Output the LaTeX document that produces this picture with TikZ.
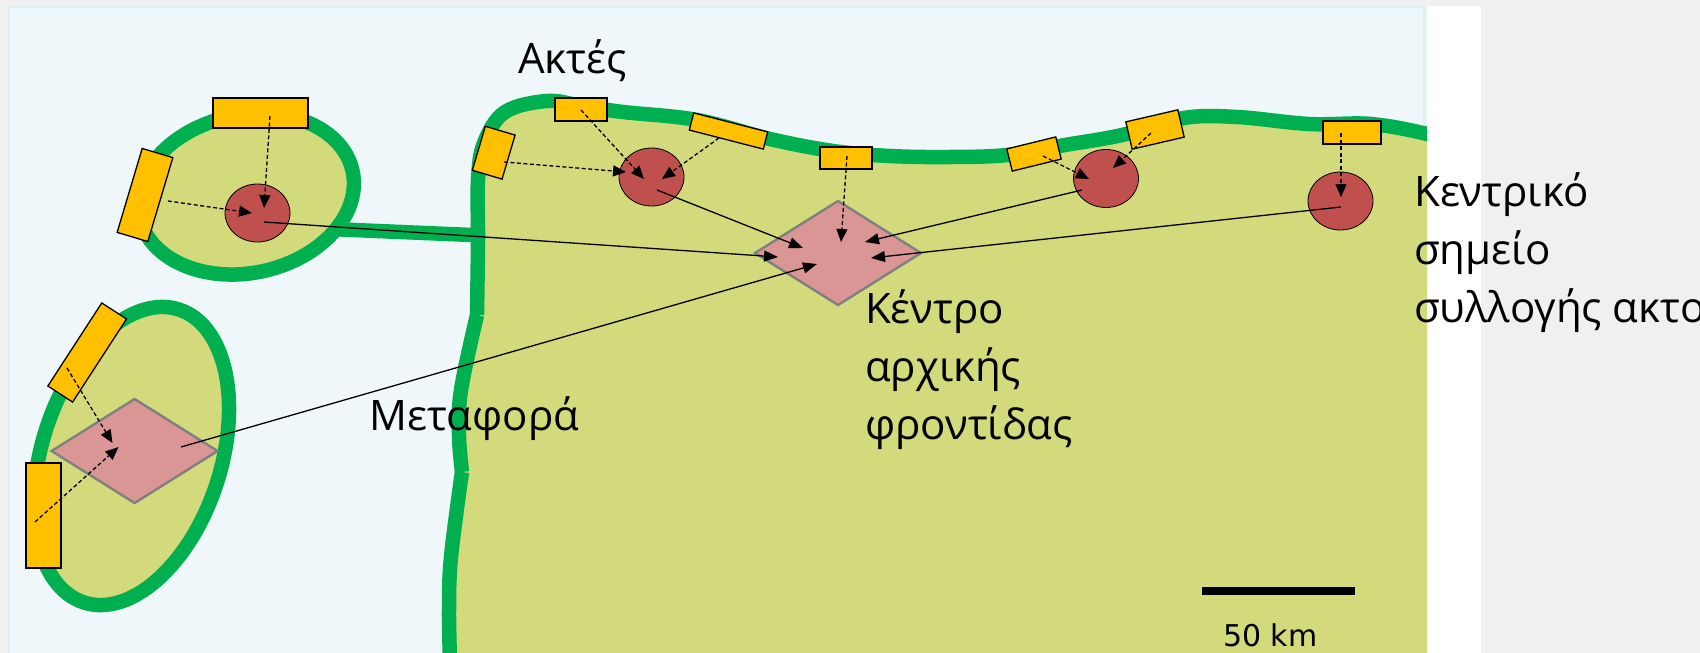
\documentclass[tikz,border=0pt]{standalone}
\usepackage{fontspec}
\usepackage{xcolor}
\usetikzlibrary{arrows.meta, shapes.geometric}
\setmainfont{Open Sans}
\newfontfamily\kmfont{DejaVu Sans}
\definecolor{PageGrey}{HTML}{F0F0F0}
\definecolor{SeaBlue}{HTML}{EFF7FA}
\definecolor{SeaEdge}{HTML}{DDEEF5}
\definecolor{LandGreen}{HTML}{D2DA7C}
\definecolor{CoastGreen}{HTML}{00B050}
\definecolor{BeachOrange}{HTML}{FFC000}
\definecolor{PointRed}{HTML}{C0504D}
\definecolor{CentrePink}{HTML}{D99694}

\begin{document}
\begin{tikzpicture}[x=1pt, y=-1pt,
    beach/.style={rectangle, draw, line width=1.3pt, fill=BeachOrange, inner sep=0pt},
    point/.style={ellipse, draw, line width=0.8pt, fill=PointRed, inner sep=0pt, minimum width=65pt, minimum height=58pt},
    centre/.style={diamond, draw=gray, line width=2.4pt, fill=CentrePink, inner sep=0pt, minimum width=167pt, minimum height=105pt},
    coast/.style={draw=CoastGreen, line width=14.5pt},
    island/.style={ellipse, coast, fill=LandGreen, inner sep=0pt},
    collect/.style={dashed, dash pattern=on 4pt off 2.5pt, line width=1.3pt, -{Triangle[length=13pt, width=11pt]}},
    haul/.style={line width=1.3pt, -{Triangle[length=14pt, width=11pt]}},
    label/.style={inner sep=0pt, anchor=north west, align=left, font=\fontsize{42}{58}\selectfont}]

        \useasboundingbox (0,0) rectangle (1700,653);
        \fill[PageGrey] (0,0) rectangle (1700,653);
        \fill[white] (1427,6) rectangle (1481,653);
        \filldraw[fill=SeaBlue, draw=SeaEdge, line width=1.5pt] (9,7) rectangle (1424,660);

        % land
        \begin{scope}
            \clip (8,7) rectangle (1427,653);
            \draw[coast] (330,229) -- (472,235);
            \node[island, minimum width=218pt, minimum height=158pt, rotate=12] (I1) at (246,194) {};
            \node[island, minimum width=308pt, minimum height=179pt, rotate=72] (I2) at (131.5,456) {};
            \fill[LandGreen] (450,660) -- plot[smooth, tension=0.6] coordinates {(450,660) (449,610) (451,557) (462,472)} -- plot[smooth, tension=0.6] coordinates {(462,472) (459,435) (461,390) (477,315)} -- plot[smooth, tension=0.6] coordinates {(477,315) (478,240) (478,180) (484,143) (505,112) (547,101) (582,106) (623,112) (697,120) (770,139) (833,151) (890,156) (950,157) (1007,155) (1065,145) (1122,135) (1184,118) (1237,117) (1309,124) (1371,124) (1427,134) (1445,142)} -- (1445,660) -- cycle;
            \draw[coast] plot[smooth, tension=0.6] coordinates {(450,660) (449,610) (451,557) (462,472)} plot[smooth, tension=0.6] coordinates {(462,472) (459,435) (461,390) (477,315)} plot[smooth, tension=0.6] coordinates {(477,315) (478,240) (478,180) (484,143) (505,112) (547,101) (582,106) (623,112) (697,120) (770,139) (833,151) (890,156) (950,157) (1007,155) (1065,145) (1122,135) (1184,118) (1237,117) (1309,124) (1371,124) (1427,134) (1445,142)};
        \end{scope}

        % beaches
        \node[beach, minimum width=95pt, minimum height=30pt] (B1) at (260.5,113) {};
        \node[beach, minimum width=87.6pt, minimum height=32pt, rotate=73.4] (B2) at (145,195) {};
        \node[beach, minimum width=99pt, minimum height=29.5pt, rotate=57] (B3) at (87.2,352.5) {};
        \node[beach, minimum width=35pt, minimum height=105pt] (B4) at (43.5,515.5) {};
        \node[beach, minimum width=45.9pt, minimum height=31pt, rotate=73.5] (B5) at (493.7,152.7) {};
        \node[beach, minimum width=52pt, minimum height=23pt] (B6) at (581,109.5) {};
        \node[beach, minimum width=76.4pt, minimum height=17.7pt, rotate=-14.4] (B7) at (728.5,131) {};
        \node[beach, minimum width=52pt, minimum height=22pt] (B8) at (846,158) {};
        \node[beach, minimum width=50.4pt, minimum height=22.8pt, rotate=13.8] (B9) at (1034,154) {};
        \node[beach, minimum width=53.4pt, minimum height=28pt, rotate=13] (B10) at (1155,129.5) {};
        \node[beach, minimum width=58pt, minimum height=23pt] (B11) at (1352,132.5) {};

        % collection points and care centres
        \node[point] (P1) at (257.5,213) {};
        \node[point] (P2) at (651.5,177) {};
        \node[point] (P3) at (1106,178.5) {};
        \node[point] (P4) at (1340.5,201) {};
        \node[centre] (C1) at (134.6,451) {};
        \node[centre] (C2) at (838,253) {};

        % ends of the arrows
        \coordinate (B1o) at (270,116);
        \coordinate (P1a) at (264,208);
        \coordinate (B2o) at (168,201);
        \coordinate (P1b) at (252,213);
        \coordinate (B3o) at (67,368);
        \coordinate (C1a) at (112.5,443);
        \coordinate (B4o) at (35,522);
        \coordinate (C1b) at (118.5,447);
        \coordinate (B5o) at (504,162);
        \coordinate (P2a) at (626,172);
        \coordinate (B6o) at (581,110);
        \coordinate (P2b) at (644,179);
        \coordinate (B7o) at (719,138);
        \coordinate (P2c) at (662,179);
        \coordinate (B8o) at (847,156);
        \coordinate (C2a) at (841,242);
        \coordinate (B9o) at (1043,156);
        \coordinate (P3a) at (1089,179);
        \coordinate (B10o) at (1151,133);
        \coordinate (P3b) at (1113,168);
        \coordinate (B11o) at (1341,133);
        \coordinate (P4a) at (1341,197);
        \coordinate (P1o) at (264,222);
        \coordinate (C2b) at (778,257);
        \coordinate (C1o) at (181,447);
        \coordinate (C2c) at (817,264);
        \coordinate (P2o) at (657,190);
        \coordinate (C2d) at (803,248);
        \coordinate (P3o) at (1082,190);
        \coordinate (C2e) at (865,242);
        \coordinate (P4o) at (1341,207);
        \coordinate (C2f) at (871,258);

        \path[collect]
        (B1o) edge (P1a)
        (B2o) edge (P1b)
        (B3o) edge (C1a)
        (B4o) edge (C1b)
        (B5o) edge (P2a)
        (B6o) edge (P2b)
        (B7o) edge (P2c)
        (B8o) edge (C2a)
        (B9o) edge (P3a)
        (B10o) edge (P3b)
        (B11o) edge (P4a)
        ;
        \path[haul]
        (P1o) edge (C2b)
        (C1o) edge (C2c)
        (P2o) edge (C2d)
        (P3o) edge (C2e)
        (P4o) edge (C2f)
        ;

        % scale bar
        \coordinate (S1) at (1202,591);
        \coordinate (S2) at (1355,591);
        \draw[line width=8pt] (S1) -- (S2);
        \node[inner sep=0pt, anchor=base west, font=\fontsize{30}{34}\kmfont] (S3) at (1223,646) {50 km};

        % labels
        \node[label] (L1) at (518,39) {Ακτές};
        \node[label] (L2) at (1414,172) {Κεντρικό\\σημείο\\συλλογής ακτο};
        \node[label] (L3) at (865,289) {Κέντρο\\αρχικής\\φροντίδας};
        \node[label] (L4) at (369,396) {Μεταφορά};

    \end{tikzpicture}
\end{document}
